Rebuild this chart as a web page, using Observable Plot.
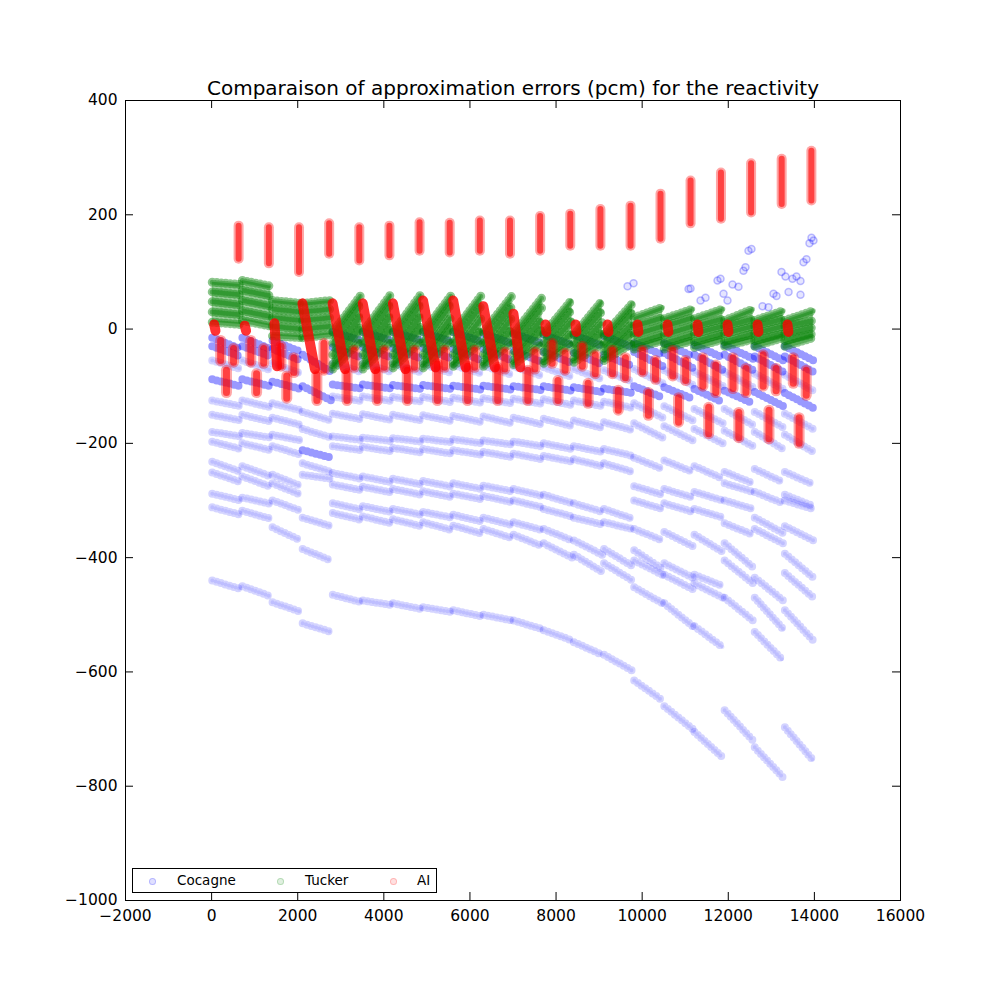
<!DOCTYPE html>
<html><head><meta charset="utf-8">
<script src="https://cdn.jsdelivr.net/npm/d3@7"></script>
<script src="https://cdn.jsdelivr.net/npm/@observablehq/plot@0.6"></script>
<style>
body{margin:0;background:#fff;font-family:"DejaVu Sans",sans-serif}
#wrap{position:relative;width:1000px;height:1000px}
#legend{position:absolute;left:132px;top:868px;width:303px;height:23px;border:1px solid #000;background:#fff;font-size:13.5px;color:#000}
#legend span{position:absolute;top:3px;line-height:16px}
#legend i{position:absolute;top:9px;width:5px;height:5px;border-radius:50%}
</style></head><body><div id="wrap"><div id="chart"></div>
<div id="legend">
<i style="left:16px;background:rgba(0,0,255,0.12);border:0.5px solid rgba(0,0,255,0.2)"></i><span style="left:44px">Cocagne</span>
<i style="left:144px;background:rgba(0,128,0,0.12);border:0.5px solid rgba(0,128,0,0.2)"></i><span style="left:172px">Tucker</span>
<i style="left:257px;background:rgba(255,0,0,0.12);border:0.5px solid rgba(255,0,0,0.2)"></i><span style="left:284px">AI</span>
</div></div>
<script>
const title = "Comparaison of approximation errors (pcm) for the reactivity";
const xTicks = [-2000,0,2000,4000,6000,8000,10000,12000,14000,16000];
const yTicks = [-1000,-800,-600,-400,-200,0,200,400];
const cycleStart = [0,700,1400,2100,2800,3500,4200,4900,5600,6300,7000,7700,8400,9100,9800,10500,11200,11900,12600,13300];

// Cocagne: per cycle [error at cycle start, error at cycle end] for each streak
const cocagneBand1 = [[-15,-35],[-15,-35],[-20,-40],[-45,-75],[-5,-20],[-5,-20],[-5,-20],[-5,-22],[-5,-22],[-8,-25],[-8,-25],[-10,-28],[-10,-30],[-12,-32],[-25,-45],[-25,-48],[-28,-50],[-28,-52],[-30,-55],[-30,-55]];
const cocagneBand2 = [[-30,-48],[-30,-48],[-35,-55],[-100,-125],[-97,-104],[-97,-104],[-98,-105],[-98,-105],[-99,-106],[-99,-106],[-100,-107],[-100,-108],[-102,-110],[-104,-112],[-40,-65],[-42,-68],[-45,-72],[-45,-72],[-48,-75],[-48,-75]];
const cocagneBand3 = [[-88,-100],[-88,-100],[-92,-105],[-212,-225],[-32,-50],[-32,-50],[-33,-52],[-33,-52],[-35,-55],[-35,-55],[-38,-58],[-40,-60],[-42,-62],[-45,-65],[-100,-120],[-102,-122],[-105,-128],[-108,-130],[-110,-135],[-112,-138]];
const cocagne04 = [[-55,-70],[-55,-72],[-60,-78],[-145,-160],[-60,-75],[-60,-75],[-61,-76],[-62,-77],[-63,-78],[-64,-80],[-65,-82],[-67,-84],[-70,-88],[-72,-92],[-70,-95],[-72,-98],[-75,-100],[-75,-102],[-78,-105],[-80,-108]];
const cocagne05 = [[-125,-135],[-125,-137],[-130,-142],[-255,-262],[-118,-126],[-118,-126],[-119,-127],[-119,-128],[-120,-129],[-121,-130],[-122,-131],[-123,-133],[-125,-135],[-127,-138],[-130,-155],[-135,-160],[-140,-165],[-140,-168],[-145,-172],[-148,-175]];
const cocagne06 = [[-150,-160],[-150,-162],[-155,-168],[-175,-190],[-148,-158],[-149,-159],[-150,-160],[-151,-161],[-152,-163],[-153,-165],[-155,-167],[-157,-170],[-160,-173],[-163,-177],[-165,-190],[-170,-195],[-175,-200],[-178,-205],[-180,-210],[-185,-215]];
const cocagne07 = [[-180,-188],[-182,-190],[-185,-195],null,[-188,-194],[-190,-196],[-191,-197],[-192,-198],[-193,-200],[-195,-202],[-197,-205],[-200,-210],[-205,-215],[-210,-222],[-225,-245],[-230,-250],[-240,-262],[-250,-270],[-245,-268],[-250,-272]];
const cocagne08 = [[-197,-210],[-200,-212],[-205,-220],[-235,-250],[-205,-212],[-206,-214],[-208,-216],[-210,-218],[-212,-220],[-215,-224],[-218,-228],[-222,-232],[-228,-240],[-235,-250],[-275,-290],[-280,-295],[-285,-300],[-270,-285],[-285,-305],[-290,-310]];
const cocagne09 = [[-232,-250],[-240,-258],[-255,-275],null,[-252,-262],[-258,-268],[-262,-272],[-266,-276],[-270,-280],[-274,-284],[-280,-292],[-290,-305],[-305,-320],[-315,-332],[-300,-315],[-305,-320],[-315,-330],[-300,-315],[-330,-357],[-300,-315]];
const cocagne10 = [[-251,-268],[-258,-276],[-270,-290],null,[-272,-282],[-276,-286],[-280,-290],[-284,-294],[-288,-298],[-292,-303],[-300,-312],[-315,-328],[-330,-342],[-338,-350],[-350,-370],[-355,-380],[-360,-390],[-340,-360],[-350,-375],[-345,-370]];
const cocagne11 = [[-288,-300],[-295,-306],[-300,-318],[-330,-345],[-305,-316],[-310,-320],[-315,-325],[-320,-330],[-325,-337],[-330,-343],[-338,-352],[-350,-370],[-370,-395],[-385,-415],[-387,-420],[-410,-435],[-430,-450],[-375,-417],[-435,-475],[-393,-435]];
const cocagne12 = [[-312,-325],[-318,-332],[-347,-370],[-385,-405],[-322,-334],[-328,-340],[-333,-345],[-338,-352],[-344,-358],[-350,-366],[-360,-380],[-375,-400],[-395,-425],[-410,-440],[-405,-430],[-430,-455],[-445,-470],[-405,-445],[-470,-525],[-427,-470]];
const cocagne13 = [null,null,null,null,null,null,null,null,null,null,null,null,null,null,[-452,-480],[-480,-520],[-520,-557],[-470,-510],[-530,-580],[-492,-545]];
const cocagne14 = [[-440,-455],[-450,-468],[-478,-495],[-515,-530],[-465,-478],[-475,-483],[-480,-490],[-487,-495],[-492,-503],[-500,-510],[-510,-525],[-527,-545],[-548,-570],[-570,-598],[-615,-650],[-660,-700],[-705,-750],[-667,-720],[-732,-785],[-697,-755]];
// Cocagne isolated points above the band (late burnup)
const cocagneOutX = [9660,9800,11077,11124,11355,11471,11750,11820,11890,11982,12098,12237,12353,12400,12469,12539,12795,12934,13050,13120,13236,13329,13400,13491,13584,13677,13677,13747,13816,13886,13933,13979];
const cocagneOutY = [75,80,70,71,50,55,85,88,62,50,78,74,102,108,137,140,40,38,62,58,100,92,65,88,92,84,60,117,122,150,160,155];

// Tucker: per cycle [start, end] streaks (tucker1 = upper edge, tucker5 = lower edge)
const tucker1 = [[82,78],[85,75],[50,45],[45,50],[-5,60],[-5,62],[-5,62],[-5,60],[-5,60],[-5,58],[-8,55],[-8,52],[-10,50],[-10,45],[20,38],[18,35],[18,35],[15,35],[15,32],[15,32]];
const tucker2 = [[65,60],[68,58],[35,30],[30,35],[-25,45],[-25,45],[-25,45],[-25,45],[-25,42],[-25,40],[-25,38],[-25,35],[-25,32],[-25,30],[5,20],[5,20],[5,18],[5,18],[5,18],[5,15]];
const tucker3 = [[48,42],[50,40],[20,15],[15,20],[-45,25],[-45,25],[-45,25],[-45,22],[-45,20],[-45,20],[-42,18],[-40,15],[-40,12],[-38,10],[-10,5],[-10,5],[-8,5],[-8,5],[-8,5],[-8,3]];
const tucker4 = [[30,25],[32,22],[5,0],[0,5],[-62,5],[-62,5],[-60,5],[-60,5],[-60,0],[-58,0],[-55,0],[-55,-5],[-52,-5],[-50,-5],[-25,-10],[-25,-10],[-22,-8],[-22,-8],[-20,-8],[-20,-8]];
const tucker5 = [[12,8],[15,5],[-12,-15],[-15,-10],[-70,-20],[-70,-20],[-68,-20],[-68,-20],[-65,-22],[-65,-22],[-62,-25],[-60,-25],[-58,-25],[-55,-25],[-35,-20],[-35,-20],[-32,-18],[-30,-18],[-30,-15],[-30,-15]];

// AI
const aiTopX = [627,1330,2030,2730,3430,4130,4830,5530,6230,6930,7630,8330,9030,9730,10426,11124,11830,12530,13240,13930];
const aiTopHigh = [181,178,178,185,178,181,187,186,190,190,198,202,210,216,237,260,274,290,298,312];
const aiTopLow = [123,115,100,132,120,129,137,134,137,132,137,146,146,146,158,185,193,204,219,225];
const aiZeroX1 = [60,770,1460,2110,2810,3510,4210,4910,5610,6310,7010,7755,8452,9195,9892,10588,11285,11982,12679,13375];
const aiZeroX2 = [90,800,1520,2400,3100,3800,4500,5200,5900,6580,7170,7775,8472,9215,9912,10608,11305,12002,12699,13395];
const aiZeroY1 = [8,6,10,45,45,45,45,50,50,40,27,8,8,8,8,8,8,8,8,8];
const aiZeroY2 = [-3,-3,-65,-70,-70,-70,-70,-67,-67,-67,-67,-5,-5,-5,-5,-5,-5,-5,-5,-5];
const aiMid1 = [[-20,-55],[-20,-58],[-30,-65],null,null,null,null,null,null,null,null,[-25,-60],[-30,-65],[-37,-78],[-37,-75],[-37,-82],[-50,-100],[-50,-104],[-45,-100],[-50,-95]];
const aiMid2 = [[-34,-58],[-34,-60],[-50,-76],[-25,-72],[-37,-67],[-37,-67],[-37,-67],[-37,-67],[-37,-67],[-40,-70],[-40,-70],[-42,-72],[-45,-78],[-50,-85],[-55,-88],[-55,-90],[-63,-111],[-69,-111],[-69,-108],[-72,-116]];
const aiLow = [[-72,-111],[-78,-111],[-82,-121],[-80,-125],[-78,-125],[-75,-125],[-72,-125],[-61,-125],[-65,-125],[-67,-125],[-72,-125],[-90,-125],[-95,-130],[-107,-142],[-111,-151],[-120,-163],[-137,-183],[-146,-190],[-142,-192],[-155,-200]];
const aiOffsetMid1 = 210, aiOffsetMid2 = 510, aiOffsetLow = 345;

const segs = pairs => pairs.flatMap((p, k) => p ? [{x1: cycleStart[k] + 15, y1: p[0], x2: cycleStart[k] + 675, y2: p[1]}] : []);
const vert = (pairs, off) => pairs.flatMap((p, k) => p ? [{x1: cycleStart[k] + off, y1: p[0], x2: cycleStart[k] + off, y2: p[1]}] : []);

const denseBlue = [cocagneBand1, cocagneBand2, cocagneBand3].flatMap(segs);
const lightBlue = [cocagne04, cocagne05, cocagne06, cocagne07, cocagne08, cocagne09, cocagne10, cocagne11, cocagne12, cocagne13, cocagne14].flatMap(segs);
const greenSegs = [tucker1, tucker2, tucker3, tucker4, tucker5].flatMap(segs);
const greenArea = cycleStart.flatMap((s, k) => [
  {x: s + 15, lo: tucker5[k][0], hi: tucker1[k][0], c: k},
  {x: s + 675, lo: tucker5[k][1], hi: tucker1[k][1], c: k}
]);
const aiTop = aiTopX.map((x, i) => ({x1: x, y1: aiTopHigh[i], x2: x, y2: aiTopLow[i]}));
const aiZero = aiZeroX1.map((x, i) => ({x1: x, y1: aiZeroY1[i], x2: aiZeroX2[i], y2: aiZeroY2[i]}));
const aiLower = [...vert(aiMid1, aiOffsetMid1), ...vert(aiMid2, aiOffsetMid2), ...vert(aiLow, aiOffsetLow)];
const outliers = cocagneOutX.map((x, i) => ({x, y: cocagneOutY[i]}));

const dots = {x1: "x1", y1: "y1", x2: "x2", y2: "y2", strokeDasharray: "0 4.5", strokeLinecap: "round"};
const solid = {x1: "x1", y1: "y1", x2: "x2", y2: "y2", strokeLinecap: "round"};
const fmt = d3.format("d");

const chart = Plot.plot({
  width: 1000, height: 1000,
  marginLeft: 125, marginRight: 100, marginTop: 100, marginBottom: 100,
  x: {domain: [-2000, 16000]},
  y: {domain: [-1000, 400]},
  style: {fontFamily: "DejaVu Sans, sans-serif", fontSize: "16px", background: "white", color: "black"},
  marks: [
    Plot.link(lightBlue, {...dots, stroke: "blue", strokeOpacity: 0.17, strokeWidth: 8}),
    Plot.link(lightBlue, {...dots, stroke: "blue", strokeOpacity: 0.1, strokeWidth: 4, strokeDasharray: "0 3.5"}),
    Plot.link(denseBlue, {...dots, stroke: "blue", strokeOpacity: 0.4, strokeWidth: 8}),
    Plot.dot(outliers, {x: "x", y: "y", r: 3.5, fill: "blue", fillOpacity: 0.1, stroke: "blue", strokeOpacity: 0.25}),
    Plot.areaY(greenArea, {x: "x", y1: "lo", y2: "hi", z: "c", fill: "green", fillOpacity: 0.4}),
    Plot.link(greenSegs, {...dots, stroke: "green", strokeOpacity: 0.45, strokeWidth: 9}),
    Plot.link(greenSegs, {...dots, stroke: "green", strokeOpacity: 0.4, strokeWidth: 5, strokeDasharray: "0 3"}),
    Plot.link(aiTop, {...solid, stroke: "red", strokeOpacity: 0.35, strokeWidth: 10}),
    Plot.link(aiTop, {...solid, stroke: "red", strokeOpacity: 0.6, strokeWidth: 6}),
    Plot.link(aiZero, {...solid, stroke: "red", strokeOpacity: 0.8, strokeWidth: 10}),
    Plot.link(aiLower, {...solid, stroke: "red", strokeOpacity: 0.35, strokeWidth: 11}),
    Plot.link(aiLower, {...solid, stroke: "red", strokeOpacity: 0.6, strokeWidth: 7}),
    Plot.frame({stroke: "black"}),
    Plot.ruleX(xTicks, {x: d => d, insetTop: 792, stroke: "black"}),
    Plot.ruleX(xTicks, {x: d => d, insetBottom: 792, stroke: "black"}),
    Plot.ruleY(yTicks, {y: d => d, insetRight: 767, stroke: "black"}),
    Plot.ruleY(yTicks, {y: d => d, insetLeft: 767, stroke: "black"}),
    Plot.axisX({ticks: xTicks, tickSize: 0, tickPadding: 9, tickFormat: fmt, fontSize: 15.5, label: null}),
    Plot.axisY({ticks: yTicks, tickSize: 0, tickPadding: 8, tickFormat: fmt, fontSize: 15.5, label: null}),
    Plot.text([title], {frameAnchor: "top", lineAnchor: "bottom", dy: -6, fontSize: 20, text: d => d})
  ]
});
document.getElementById("chart").appendChild(chart);
</script></body></html>
